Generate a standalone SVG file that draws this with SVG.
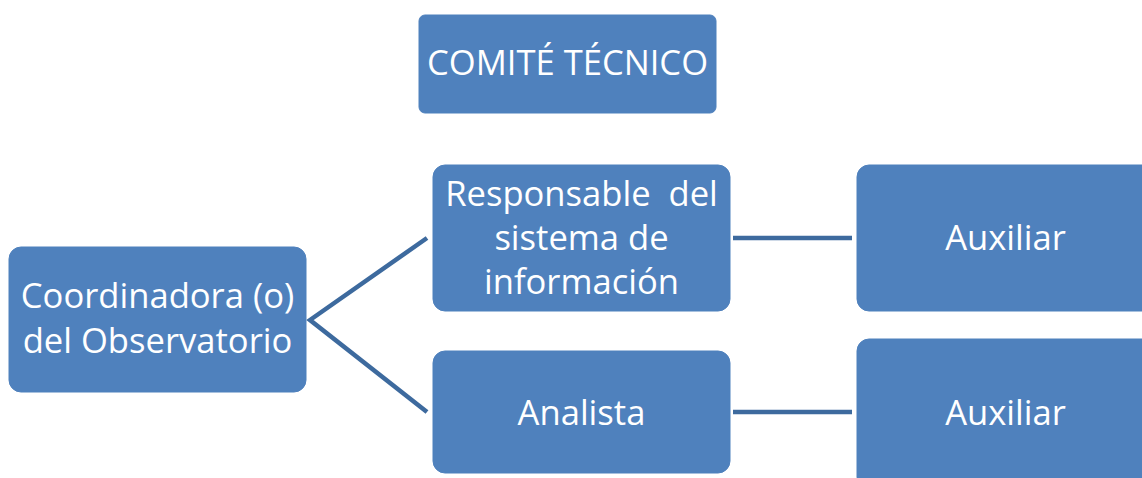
<svg xmlns="http://www.w3.org/2000/svg" width="1142" height="478" viewBox="0 0 1142 478">
<style>
.box{fill:#4f81bd;stroke:#4f81bd;stroke-width:1}
.t{font-family:"Open Sans","Noto Sans",sans-serif;font-size:34.6px;fill:#ffffff;text-anchor:middle}
.c{stroke:#3d6a9e;stroke-width:4.5;fill:none}
</style>
<rect width="1142" height="478" fill="#ffffff"/>
<g id="connectors">
<polyline class="c" points="427,238 310,320 427,412"/>
<line class="c" x1="733" y1="238" x2="852" y2="238"/>
<line class="c" x1="733" y1="412" x2="852" y2="412"/>
</g>
<g id="comite">
<rect class="box" x="419" y="15" width="297" height="98" rx="6"/>
<text class="t" x="567.5" y="75">COMITÉ TÉCNICO</text>
</g>
<g id="coordinadora">
<rect class="box" x="9" y="247" width="297" height="145" rx="12"/>
<text class="t" x="157.5" y="308">Coordinadora (o)</text>
<text class="t" x="157.5" y="353">del Observatorio</text>
</g>
<g id="responsable">
<rect class="box" x="433" y="165" width="297" height="146" rx="12"/>
<text class="t" x="581.5" y="206" xml:space="preserve">Responsable  del</text>
<text class="t" x="581.5" y="250">sistema de</text>
<text class="t" x="581.5" y="294">información</text>
</g>
<g id="analista">
<rect class="box" x="433" y="351" width="297" height="122" rx="12"/>
<text class="t" x="581.5" y="425">Analista</text>
</g>
<g id="auxiliar1">
<rect class="box" x="857" y="165" width="297" height="146" rx="12"/>
<text class="t" x="1005.5" y="250">Auxiliar</text>
</g>
<g id="auxiliar2">
<rect class="box" x="857" y="339" width="297" height="150" rx="12"/>
<text class="t" x="1005.5" y="425">Auxiliar</text>
</g>
</svg>
